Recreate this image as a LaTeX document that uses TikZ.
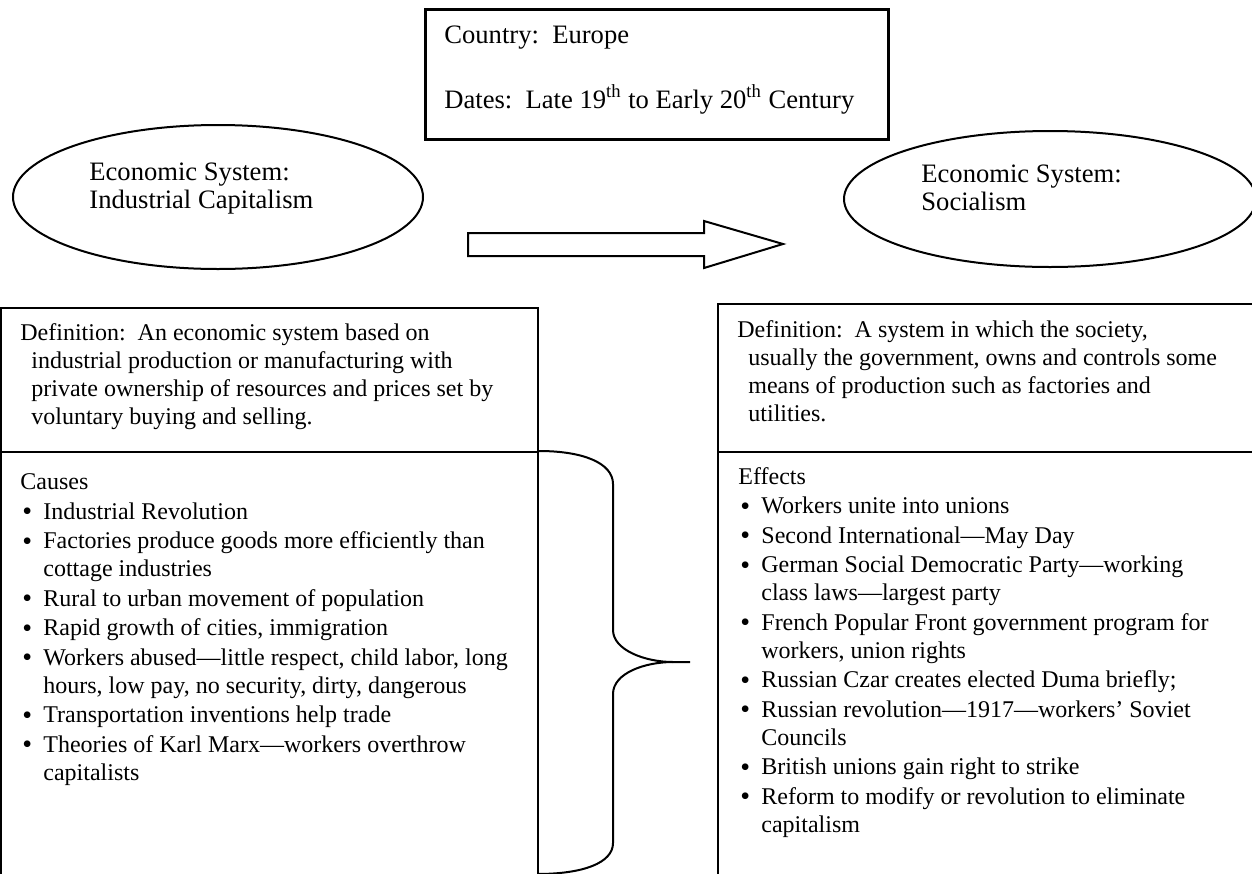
\documentclass[tikz,border=0pt]{standalone}
\usepackage{fontspec}
\setmainfont{Liberation Serif}
\usetikzlibrary{shapes,arrows}
\tikzstyle{box} = [rectangle, draw=black, line width=1pt, inner sep=0pt, anchor=north west]
\tikzstyle{oval} = [ellipse, draw=black, line width=1pt, inner sep=0pt]
\tikzstyle{txt} = [anchor=base west, inner sep=0pt, align=left, font=\fontsize{12}{14}\selectfont]
\tikzstyle{big} = [anchor=base west, inner sep=0pt, align=left, font=\fontsize{13.3}{14}\selectfont]
\newcommand{\bulletmark}{\makebox[11.5pt][l]{\hspace{1pt}\raisebox{-0.8pt}{\fontsize{14}{14}\selectfont\textbullet}}}
\newcommand{\contmark}{\hspace*{11.5pt}}
\newcommand{\hangmark}{\hspace*{5.5pt}}

\begin{document}
\begin{tikzpicture}[x=0.5pt, y=-0.5pt]
        \useasboundingbox (0,0) rectangle (1252,873);
        \clip (0,0) rectangle (1252,873);

        % top box (base = last line)
        \node (info) [box, minimum width=231.5pt, minimum height=65pt, line width=1.3pt] at (424,8) {};
        \node (country) [big] at (444,43) {Country:\ \ Europe};
        \node (dates) [big] at (444,108) {Dates:\ \ Late 19\textsuperscript{th} to Early 20\textsuperscript{th} Century};

        \node (cap) [oval, minimum width=205pt, minimum height=72pt] at (218,197) {};
        \node (soc) [oval, minimum width=206pt, minimum height=68pt] at (1050,199) {};
        \node (capt) [big] at (89,208) {Economic System:\\Industrial Capitalism};
        \node (soct) [big] at (921,210) {Economic System:\\Socialism};

        \draw[line width=1pt] (468,233) -- (704,233) -- (704,221) -- (783,244) -- (704,268) -- (704,256) -- (468,256) -- cycle;

        \node (defL) [box, minimum width=268.5pt, minimum height=72pt] at (0,307) {};
        \node (causesbox) [box, minimum width=268.5pt, minimum height=220pt] at (0,451) {};
        \node (defR) [box, minimum width=272.5pt, minimum height=74pt] at (717,303) {};
        \node (effectsbox) [box, minimum width=272.5pt, minimum height=220pt] at (717,451) {};

        \node (defLt) [txt] at (20,424) {Definition:\ \ An economic system based on\\
            \hangmark industrial production or manufacturing with\\
            \hangmark private ownership of resources and prices set by\\
            \hangmark voluntary buying and selling.};
        \node (defRt) [txt] at (737,421) {Definition:\ \ A system in which the society,\\
            \hangmark usually the government, owns and controls some\\
            \hangmark means of production such as factories and\\
            \hangmark utilities.};

        \node (causes) [txt] at (20,780) {Causes\\[0.75pt]
            \bulletmark Industrial Revolution\\[0.75pt]
            \bulletmark Factories produce goods more efficiently than\\
            \contmark cottage industries\\[0.75pt]
            \bulletmark Rural to urban movement of population\\[0.75pt]
            \bulletmark Rapid growth of cities, immigration\\[0.75pt]
            \bulletmark Workers abused—little respect, child labor, long\\
            \contmark hours, low pay, no security, dirty, dangerous\\[0.75pt]
            \bulletmark Transportation inventions help trade\\[0.75pt]
            \bulletmark Theories of Karl Marx—workers overthrow\\
            \contmark capitalists};
        \node (effects) [txt] at (738,832) {Effects\\[0.75pt]
            \bulletmark Workers unite into unions\\[0.75pt]
            \bulletmark Second International—May Day\\[0.75pt]
            \bulletmark German Social Democratic Party—working\\
            \contmark class laws—largest party\\[0.75pt]
            \bulletmark French Popular Front government program for\\
            \contmark workers, union rights\\[0.75pt]
            \bulletmark Russian Czar creates elected Duma briefly;\\[0.75pt]
            \bulletmark Russian revolution—1917—workers’ Soviet\\
            \contmark Councils\\[0.75pt]
            \bulletmark British unions gain right to strike\\[0.75pt]
            \bulletmark Reform to modify or revolution to eliminate\\
            \contmark capitalism};

        % brace
        \draw[line width=1pt] (causesbox.north east) .. controls (583,451) and (613,463) .. (613,484) -- (613,630) .. controls (613,650) and (645,662) .. (673,662) -- (690,662);
        \draw[line width=1pt] (673,662) .. controls (645,662) and (613,673) .. (613,694) -- (613,843) .. controls (613,863) and (583,874) .. (537,874);

    \end{tikzpicture}
\end{document}
